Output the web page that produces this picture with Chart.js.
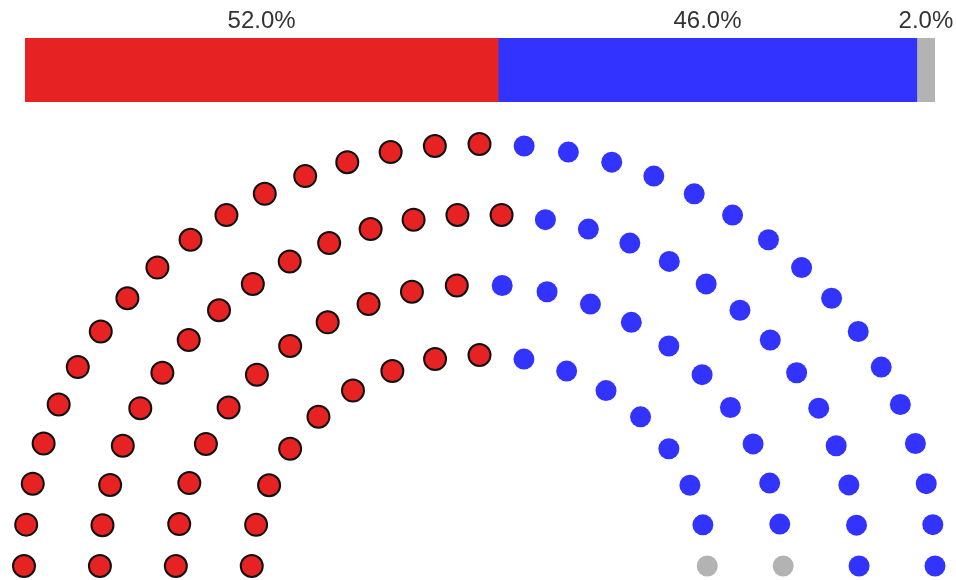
<!DOCTYPE html>
<html lang="fr">
<head>
  <meta charset="UTF-8">
  <title>Répartition des sièges</title>
  <style>
    body {
      margin: 0;
      background: #ffffff;
      font-family: 'Liberation Sans', Arial, sans-serif;
    }
    .wrap {
      position: relative;
      width: 956px;
      height: 580px;
      overflow: hidden;
    }
    canvas {
      position: absolute;
      left: 0;
      top: 0;
    }
  </style>
  <script src="https://cdn.jsdelivr.net/npm/chart.js"></script>
</head>
<body>
  <div class="wrap">
    <canvas id="hemicycle" width="956" height="580"></canvas>
    <canvas id="shares" width="956" height="110"></canvas>
  </div>
  <script>
    // données
    const parties = ['Parti rouge', 'Parti bleu', 'Autres'];
    const seats = [52, 46, 2];
    const partyColors = ['#e62222', '#3333ff', '#b3b3b3'];
    const rowCount = 4;

    const totalSeats = seats.reduce((a, b) => a + b, 0);
    const shares = seats.map(s => s / totalSeats * 100);

    // barre des pourcentages
    const shareLabels = {
      id: 'shareLabels',
      afterDatasetsDraw(chart) {
        const ctx = chart.ctx;
        ctx.save();
        ctx.font = '24px "Liberation Sans", Arial, sans-serif';
        ctx.fillStyle = '#333333';
        ctx.textAlign = 'center';
        ctx.textBaseline = 'alphabetic';
        chart.data.datasets.forEach((ds, i) => {
          const bar = chart.getDatasetMeta(i).data[0];
          const cx = (bar.x + bar.base) / 2;
          ctx.fillText(ds.data[0].toFixed(1) + '%', cx, chart.chartArea.top - 10);
        });
        ctx.restore();
      }
    };

    new Chart(document.getElementById('shares'), {
      type: 'bar',
      data: {
        labels: [''],
        datasets: parties.map((p, i) => ({
          label: p,
          data: [shares[i]],
          backgroundColor: partyColors[i],
          borderWidth: 0,
          barPercentage: 1,
          categoryPercentage: 1
        }))
      },
      options: {
        indexAxis: 'y',
        responsive: false,
        animation: false,
        layout: { autoPadding: false, padding: { left: 25, right: 21, top: 38, bottom: 8 } },
        scales: {
          x: { stacked: true, min: 0, max: 100, display: false },
          y: { stacked: true, display: false }
        },
        plugins: { legend: { display: false }, tooltip: { enabled: false } }
      },
      plugins: [shareLabels]
    });

    // hémicycle : rangées de rayon 0.5 à 1, sièges proportionnels au rayon
    const radii = [];
    for (let r = 0; r < rowCount; r++) radii.push(0.5 + r * 0.5 / (rowCount - 1));
    const sumR = radii.reduce((a, b) => a + b, 0);
    const rowSeats = radii.map(r => Math.round(totalSeats * r / sumR));
    rowSeats[rowCount - 1] += totalSeats - rowSeats.reduce((a, b) => a + b, 0);

    const places = [];
    for (let r = rowCount - 1; r >= 0; r--) {
      const n = rowSeats[r];
      for (let i = 0; i < n; i++) {
        const a = Math.PI * (1 - i / (n - 1));
        places.push({ a: a, r: radii[r], x: radii[r] * Math.cos(a), y: radii[r] * Math.sin(a) });
      }
    }
    places.sort((p, q) => Math.abs(p.a - q.a) > 1e-9 ? q.a - p.a : q.r - p.r);

    const seatData = parties.map(() => []);
    let k = 0;
    seats.forEach((s, i) => {
      for (let j = 0; j < s; j++, k++) seatData[i].push({ x: places[k].x, y: places[k].y });
    });

    new Chart(document.getElementById('hemicycle'), {
      type: 'scatter',
      data: {
        datasets: parties.map((p, i) => ({
          label: p,
          data: seatData[i],
          backgroundColor: partyColors[i],
          borderColor: i === 0 ? '#111111' : partyColors[i],
          borderWidth: i === 0 ? 2 : 0,
          pointRadius: i === 0 ? 11 : 10.5,
          pointHoverRadius: i === 0 ? 11 : 10.5,
          clip: false
        }))
      },
      options: {
        responsive: false,
        animation: false,
        layout: { autoPadding: false, padding: { left: 24, right: 21, top: 144, bottom: 14 } },
        scales: {
          x: { min: -1, max: 1, display: false },
          y: { min: 0, max: 1, display: false }
        },
        plugins: { legend: { display: false }, tooltip: { enabled: false } }
      }
    });
  </script>
</body>
</html>
